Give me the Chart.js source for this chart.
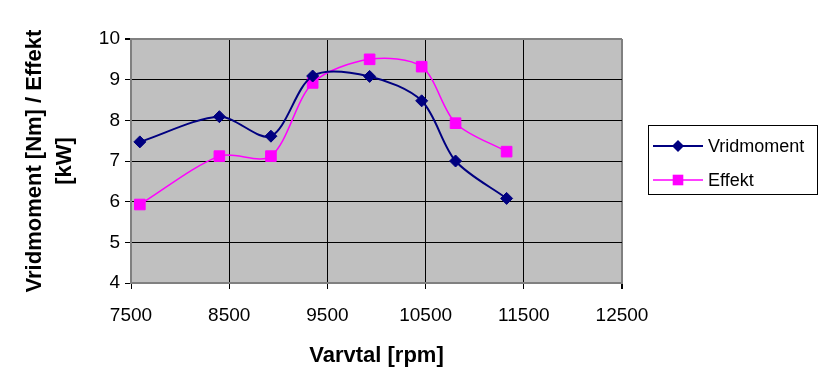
<!DOCTYPE html>
<html>
<head>
<meta charset="utf-8">
<script src="https://cdn.jsdelivr.net/npm/chart.js@4/dist/chart.umd.min.js"></script>
<style>
  html, body { margin: 0; padding: 0; background: #fff; }
  #wrap { width: 835px; height: 383px; position: relative; }
</style>
</head>
<body>
<div id="wrap"><canvas id="c" width="835" height="383"></canvas></div>
<script>
// ---- data ----
const rpm        = [7590, 8400, 8925, 9350, 9930, 10460, 10805, 11325];
const vridmoment = [7.47, 8.09, 7.61, 9.09, 9.08, 8.48, 7.00, 6.08];
const effekt     = [5.93, 7.12, 7.12, 8.92, 9.50, 9.32, 7.93, 7.23];
const seriesNames = ['Vridmoment', 'Effekt'];
const xTitle = 'Varvtal [rpm]';
const yTitle = ['Vridmoment [Nm] / Effekt', '[kW]'];
const xTickValues = [7500, 8500, 9500, 10500, 11500, 12500];
const yTickValues = [4, 5, 6, 7, 8, 9, 10];

const FONT = '"Liberation Sans", Arial, sans-serif';
const toPts = (xs, ys) => xs.map((x, i) => ({ x: x, y: ys[i] }));

const plotBg = {
  id: 'plotBg',
  beforeDraw(chart) {
    const a = chart.chartArea, ctx = chart.ctx;
    ctx.save();
    ctx.fillStyle = '#C0C0C0';
    ctx.fillRect(a.left, a.top, a.right - a.left, a.bottom - a.top);
    ctx.restore();
  }
};

function drawMarker(ctx, style, x, y, r, color) {
  ctx.save();
  ctx.fillStyle = color;
  ctx.strokeStyle = color;
  ctx.beginPath();
  if (style === 'rectRot') {
    ctx.moveTo(x, y - r); ctx.lineTo(x + r, y); ctx.lineTo(x, y + r); ctx.lineTo(x - r, y);
  } else {
    const s = r * Math.SQRT1_2;
    ctx.rect(x - s, y - s, 2 * s, 2 * s);
  }
  ctx.closePath();
  ctx.fill();
  ctx.restore();
}

const boxLegend = {
  id: 'boxLegend',
  afterDraw(chart) {
    const ctx = chart.ctx;
    const L = 648, T = 125, W = 169, H = 69;
    ctx.save();
    ctx.fillStyle = '#fff';
    ctx.fillRect(L, T, W, H);
    ctx.strokeStyle = '#000';
    ctx.lineWidth = 1;
    ctx.strokeRect(L + 0.5, T + 0.5, W, H);
    ctx.font = '18px ' + FONT;
    ctx.textBaseline = 'middle';
    ctx.textAlign = 'left';
    chart.data.datasets.forEach((ds, i) => {
      const y = T + 21 + i * 34;
      ctx.strokeStyle = ds.borderColor;
      ctx.lineWidth = ds.borderWidth;
      ctx.beginPath();
      ctx.moveTo(L + 5, y); ctx.lineTo(L + 55, y);
      ctx.stroke();
      drawMarker(ctx, ds.pointStyle, L + 30, y, ds.pointRadius, ds.pointBackgroundColor);
      ctx.fillStyle = '#000';
      ctx.fillText(ds.label, L + 60, y + 1);
    });
    ctx.restore();
  }
};

new Chart(document.getElementById('c'), {
  type: 'line',
  data: {
    datasets: [
      {
        label: seriesNames[0],
        data: toPts(rpm, vridmoment),
        borderColor: '#000080',
        backgroundColor: '#000080',
        pointBackgroundColor: '#000080',
        pointBorderColor: '#000080',
        borderWidth: 2,
        pointStyle: 'rectRot',
        pointRadius: 6,
        pointBorderWidth: 1,
        tension: 0.3,
        fill: false
      },
      {
        label: seriesNames[1],
        data: toPts(rpm, effekt),
        borderColor: '#FF00FF',
        backgroundColor: '#FF00FF',
        pointBackgroundColor: '#FF00FF',
        pointBorderColor: '#FF00FF',
        borderWidth: 1.5,
        pointStyle: 'rect',
        pointRadius: 7.5,
        pointBorderWidth: 1,
        tension: 0.3,
        fill: false
      }
    ]
  },
  options: {
    responsive: false,
    animation: false,
    events: [],
    layout: { padding: { left: 0, top: 39, right: 213, bottom: 0 } },
    plugins: {
      legend: { display: false },
      tooltip: { enabled: false }
    },
    scales: {
      x: {
        type: 'linear',
        min: xTickValues[0],
        max: xTickValues[xTickValues.length - 1],
        afterFit(s) { s.height = 100; },
        afterBuildTicks(s) { s.ticks = xTickValues.map(v => ({ value: v })); },
        ticks: {
          color: '#000',
          font: { family: FONT, size: 19 },
          padding: 15,
          maxRotation: 0,
          callback: v => String(v)
        },
        grid: {
          color: ctx => (ctx.tick && ctx.tick.value === xTickValues[xTickValues.length - 1]) ? '#808080' : '#000',
          lineWidth: ctx => (ctx.tick && ctx.tick.value === xTickValues[xTickValues.length - 1]) ? 2 : 1,
          drawTicks: true,
          tickLength: 6,
          tickColor: '#000'
        },
        border: { display: true, color: '#808080', width: 2 },
        title: {
          display: true,
          text: xTitle,
          color: '#000',
          font: { family: FONT, size: 22, weight: 'bold' },
          padding: { top: 0, bottom: 14 }
        }
      },
      y: {
        min: yTickValues[0],
        max: yTickValues[yTickValues.length - 1],
        afterFit(s) { s.width = 131; },
        afterBuildTicks(s) { s.ticks = yTickValues.map(v => ({ value: v })); },
        ticks: {
          color: '#000',
          font: { family: FONT, size: 19 },
          padding: 5,
          callback: v => String(v)
        },
        grid: {
          color: ctx => (ctx.tick && ctx.tick.value === yTickValues[yTickValues.length - 1]) ? '#808080' : '#000',
          lineWidth: ctx => (ctx.tick && ctx.tick.value === yTickValues[yTickValues.length - 1]) ? 2 : 1,
          drawTicks: true,
          tickLength: 6,
          tickColor: '#000'
        },
        border: { display: true, color: '#808080', width: 2 },
        title: {
          display: true,
          text: yTitle,
          color: '#000',
          font: { family: FONT, size: 22, weight: 'bold', lineHeight: 1.35 },
          padding: { top: 20, bottom: 0 }
        }
      }
    }
  },
  plugins: [plotBg, boxLegend]
});
</script>
</body>
</html>
